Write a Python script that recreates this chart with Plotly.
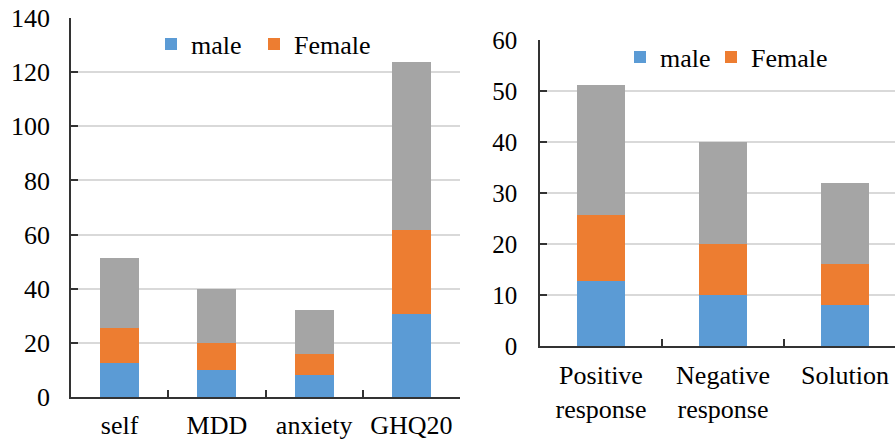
import plotly.graph_objects as go

# ---- data ----
left_categories = ["self", "MDD", "anxiety", "GHQ20"]
left_male = [12.7, 10.0, 8.0, 30.8]
left_female = [12.9, 10.0, 8.0, 31.0]
left_total = [25.6, 20.0, 16.0, 61.8]

right_categories = ["Positive<br>response", "Negative<br>response", "Solution"]
right_male = [12.7, 10.0, 8.0]
right_female = [12.9, 10.0, 8.0]
right_total = [25.6, 20.0, 16.0]

left_ticks = [0, 20, 40, 60, 80, 100, 120, 140]
right_ticks = [0, 10, 20, 30, 40, 50, 60]

BLUE = "#5B9BD5"
ORANGE = "#ED7D31"
GRAY = "#A5A5A5"
FONT = "'Times New Roman', 'Liberation Serif', 'DejaVu Serif', serif"

W, H = 895, 444

fig = go.Figure()

def add_stack(cats, male, female, total, xa, ya, leg_m, leg_f):
    fig.add_trace(go.Bar(x=cats, y=male, name="male", marker=dict(color=BLUE, line=dict(width=0)),
                         width=0.4, xaxis=xa, yaxis=ya, legend=leg_m))
    fig.add_trace(go.Bar(x=cats, y=female, name="Female", marker=dict(color=ORANGE, line=dict(width=0)),
                         width=0.4, xaxis=xa, yaxis=ya, legend=leg_f))
    fig.add_trace(go.Bar(x=cats, y=total, name="Total", marker=dict(color=GRAY, line=dict(width=0)),
                         width=0.4, xaxis=xa, yaxis=ya, showlegend=False))

add_stack(left_categories, left_male, left_female, left_total, "x", "y", "legend", "legend3")
add_stack(right_categories, right_male, right_female, right_total, "x2", "y2", "legend2", "legend4")

axis_line = "#333333"
grid = "#D9D9D9"
tickfont = dict(family=FONT, size=26, color="#000000")

def leg(xpx, ypx):
    return dict(orientation="h", x=xpx / W, xanchor="left", y=(H - ypx) / H, yanchor="middle",
                font=dict(family=FONT, size=26, color="#000000"), bgcolor="rgba(0,0,0,0)",
                borderwidth=0)

common_x = dict(type="category", showline=True, linecolor=axis_line, linewidth=1.5,
                ticks="inside", tickson="boundaries", ticklen=7, tickcolor=axis_line, tickwidth=1.5,
                tickfont=tickfont, showgrid=False, automargin=False)
common_y = dict(showline=True, linecolor=axis_line, linewidth=1.5,
                ticks="inside", ticklen=7, tickcolor=axis_line, tickwidth=1.5,
                showgrid=True, gridcolor=grid, gridwidth=2, zeroline=False,
                automargin=False)

fig.update_layout(
    width=W, height=H,
    margin=dict(l=0, r=0, t=0, b=0, autoexpand=False),
    paper_bgcolor="white", plot_bgcolor="white",
    barmode="stack",
    font=dict(family=FONT, size=26, color="#000000"),
    xaxis=dict(domain=[71 / W, 460 / W], anchor="y", range=[-0.5, 3.5],
               ticklabelstandoff=4, **common_x),
    yaxis=dict(domain=[(H - 397) / H, (H - 18) / H], anchor="x", range=[0, 140],
               tickvals=left_ticks, tickfont=tickfont, ticklabelstandoff=14, **common_y),
    xaxis2=dict(domain=[540 / W, 1.0], anchor="y2", range=[-0.5, 2.5 - 11 / 122],
                ticklabelstandoff=5, **common_x),
    yaxis2=dict(domain=[(H - 346) / H, (H - 40) / H], anchor="x2", range=[0, 60],
                tickvals=right_ticks, tickfont=dict(family=FONT, size=25, color="#000000"),
                ticklabelstandoff=16, **common_y),
    legend=leg(151, 44),
    legend3=leg(254, 44),
    legend2=leg(620, 57),
    legend4=leg(711, 57),
    showlegend=True,
    bargap=0.6,
)

fig.write_html("out.html")
